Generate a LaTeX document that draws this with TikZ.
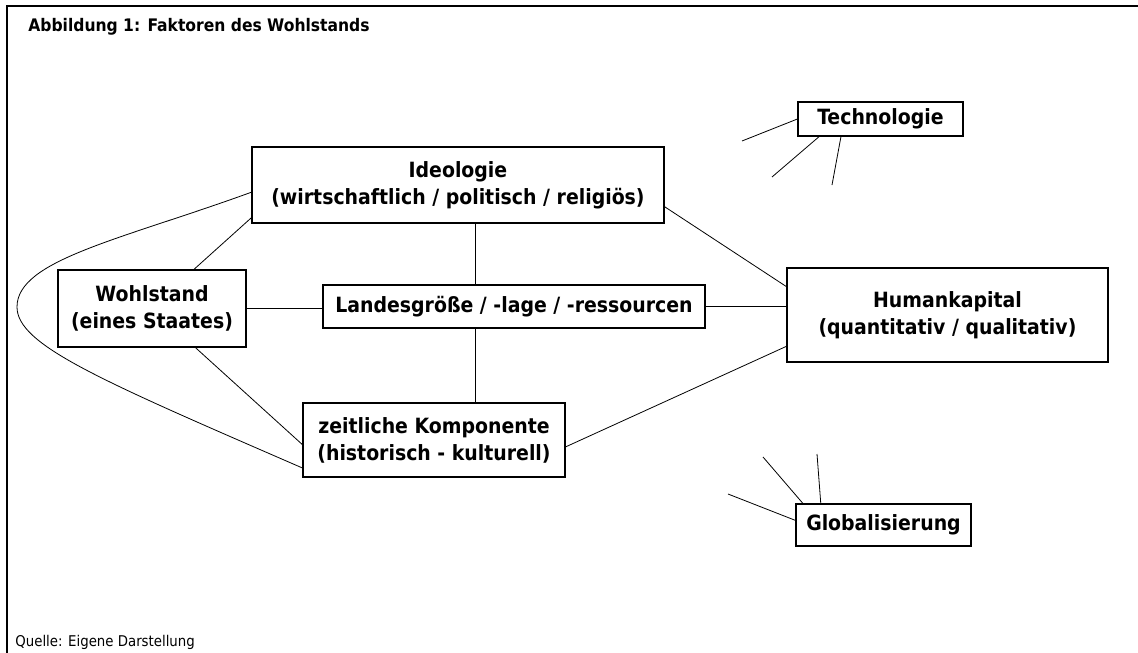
\documentclass[tikz,border=0pt]{standalone}
\usepackage{fontspec}
\setmainfont{DejaVu Sans Condensed}
\usepackage{tikz}
\usetikzlibrary{shapes,arrows.meta}
\newcommand{\wsfont}{\fontsize{21}{27}\selectfont\bfseries}
\tikzset{wsbox/.style={rectangle, draw, line width=1.2pt, align=center, inner sep=0pt, font=\wsfont}}
\newcommand{\wsfactor}[5] {\node at (#1) (#2) [wsbox, minimum width=#3, minimum height=#4] {#5};}
\newcommand{\wslink}[2] {\draw (#1) -- (#2);}
\begin{document}
\begin{tikzpicture}[x=1pt, y=-1pt, line width=0.8pt]
\useasboundingbox (0,0) rectangle (1138,653);
\draw [line width=2.5pt] (7,653) -- (7,6) -- (1138,6);
\node at (28,27) (title) [anchor=west, inner sep=0pt, font=\fontsize{17.3}{20}\selectfont\bfseries] {Abbildung 1: Faktoren des Wohlstands};
\node at (15,642) (quelle) [anchor=west, inner sep=0pt, font=\fontsize{14.8}{17}\selectfont] {Quelle: Eigene Darstellung};

\wsfactor {458,185}{ideo}{412pt}{76pt}{Ideologie\\ (wirtschaftlich / politisch / religiös)}
\wsfactor {152,308.5}{wohl}{188pt}{77pt}{Wohlstand\\ (eines Staates)}
\wsfactor {514,306.5}{land}{382pt}{43pt}{Landesgröße / -lage / -ressourcen}
\wsfactor {947.5,315}{human}{321pt}{94pt}{Humankapital\\ (quantitativ / qualitativ)}
\wsfactor {434,440}{zeit}{262pt}{74pt}{zeitliche Komponente\\ (historisch - kulturell)}
\wsfactor {880.5,119}{techno}{165pt}{34pt}{Technologie}
\wsfactor {883.5,525}{global}{175pt}{42pt}{Globalisierung}

\coordinate (axis) at (475,0);
\coordinate (loop) at (17,307);
\coordinate (t1) at (742,141);
\coordinate (t2) at (772,177);
\coordinate (t3) at (832,185);
\coordinate (g1) at (728,494);
\coordinate (g2) at (763,457);
\coordinate (g3) at (817,454);

\wslink {ideo.south -| axis}{land.north -| axis}
\wslink {land.south -| axis}{zeit.north -| axis}
\wslink {wohl.east}{wohl.east -| land.west}
\wslink {land.east}{land.east -| human.west}
\wslink {ideo.189}{wohl.43}
\wslink {ideo.-6}{human.170}
\wslink {wohl.-42}{zeit.182}
\wslink {zeit.-3}{human.191}
\draw (ideo.182) .. controls (120,240) and (17,260) .. (loop)
  .. controls (17,345) and (100,380) .. (zeit.192);

\wslink {techno.west}{t1}
\wslink {techno.196}{t2}
\wslink {techno.204}{t3}
\wslink {global.177}{g1}
\wslink {global.165}{g2}
\wslink {global.161}{g3}
\end{tikzpicture}
\end{document}
